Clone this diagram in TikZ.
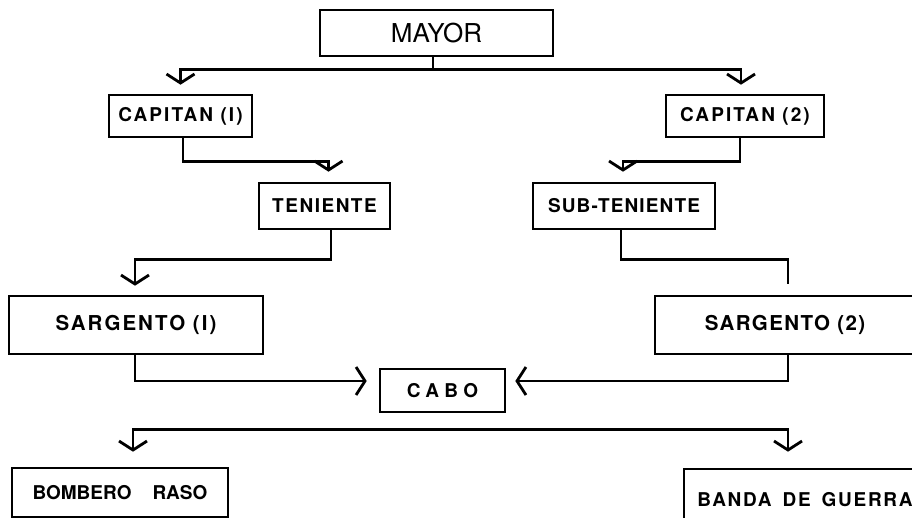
\documentclass[tikz,border=0pt]{standalone}
\usepackage{fontspec}
\setmainfont{TeX Gyre Heros}
\newfontfamily\lblfont{TeX Gyre Heros}
\usetikzlibrary{arrows.meta}
\tikzset{
  box/.style={draw, line width=2.6pt, inner sep=0pt, anchor=center},
  lbl/.style={font=\lblfont\bfseries\fontsize{19}{21}\selectfont},
  biglbl/.style={font=\lblfont\bfseries\fontsize{20.5}{23}\selectfont},
  conn/.style={line width=2.8pt},
  arr/.style={conn, -{Straight Barb[length=9pt,width=28pt]}}
}
\begin{document}
\begin{tikzpicture}[x=1pt,y=-1pt]
\clip (0,0) rectangle (912,518);
\fill[white] (0,0) rectangle (912,518);
% boxes
\node[box, minimum width=233pt, minimum height=46pt,
      font=\lblfont\fontsize{26}{29}\selectfont] (mayor) at (436.5,33) {MAYOR\hspace{10pt}};
\node[box, lbl, minimum width=143pt, minimum height=42pt] (cap1) at (180.5,116)
  {\addfontfeature{LetterSpace=11}CAPITAN (I)};
\node[box, lbl, minimum width=158pt, minimum height=42pt] (cap2) at (745,116)
  {\addfontfeature{LetterSpace=11}CAPITAN (2)};
\node[box, lbl, minimum width=131pt, minimum height=46pt] (ten) at (324.5,206)
  {\addfontfeature{LetterSpace=8}TENIENTE};
\node[box, lbl, minimum width=182pt, minimum height=46pt] (sub) at (624,206)
  {\addfontfeature{LetterSpace=6}SUB-TENIENTE};
\node[box, biglbl, minimum width=254pt, minimum height=58pt] (sar1) at (136,325)
  {\addfontfeature{LetterSpace=10}SARGENTO (I)};
\node[box, biglbl, minimum width=260pt, minimum height=58pt] (sar2) at (785,325)
  {\addfontfeature{LetterSpace=7}SARGENTO (2)\hspace{8pt}};
\node[box, lbl, minimum width=125pt, minimum height=43pt] (cabo) at (442.5,390.5)
  {\addfontfeature{LetterSpace=28}CABO};
\node[box, lbl, minimum width=216pt, minimum height=49pt] (bomb) at (120,492.5)
  {BOMBERO\hspace{21pt}RASO};
\node[box, lbl, minimum width=242pt, minimum height=61pt] (banda) at (805,499.5)
  {\addfontfeature{LetterSpace=9}BANDA\hspace{11pt}DE\hspace{11pt}GUERRA\hspace{14pt}};
% connectors
\draw[arr] ([xshift=-3.5pt]mayor.south) -- ++(0,12) -| ([yshift=9pt]cap1.north);
\draw[arr] ([xshift=-3.5pt]mayor.south) -- ++(0,12) -| ([xshift=-4pt,yshift=9pt]cap2.north);
\draw[arr] ([xshift=2.5pt]cap1.south) -- ++(0,23) -| ([xshift=4pt,yshift=10pt]ten.north);
\draw[arr] ([xshift=-5pt]cap2.south) -- ++(0,23) -| ([xshift=-1pt,yshift=10pt]sub.north);
\draw[arr] ([xshift=6.5pt]ten.south) -- ++(0,29) -| ([xshift=-1pt,yshift=9pt]sar1.north);
\coordinate (s2in) at ([xshift=3pt,yshift=11pt]sar2.north);
\draw[conn] ([xshift=-3pt]sub.south) -- ++(0,29) -| (s2in);
\draw[arr] ([xshift=-1pt]sar1.south) |- ([xshift=-12pt,yshift=9.5pt]cabo.west);
\draw[arr] ([xshift=3pt]sar2.south) |- ([xshift=9pt,yshift=9.5pt]cabo.east);
\coordinate (cj) at ([yshift=-16pt]cabo.south);
\draw[arr] (cj) -| ([xshift=13pt,yshift=15pt]bomb.north);
\draw[arr] (cj) -| ([xshift=-17pt,yshift=16pt]banda.north);
\end{tikzpicture}
\end{document}
